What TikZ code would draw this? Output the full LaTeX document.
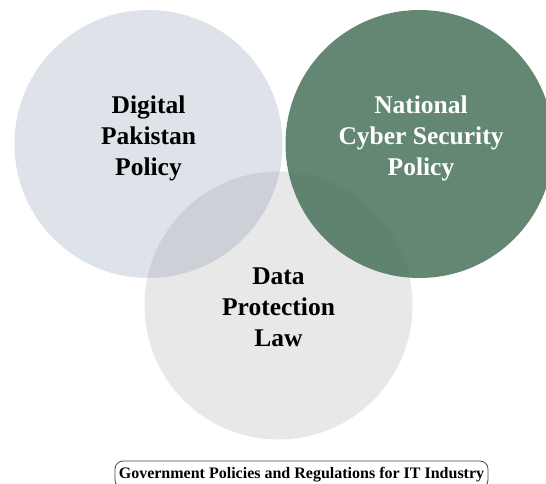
\documentclass[tikz,border=0pt]{standalone}
\usepackage{fontspec}
\setmainfont{Liberation Serif}
\usepackage{xcolor}

\definecolor{pakblue}{RGB}{222,226,233}
\definecolor{lawgrey}{RGB}{128,128,128}
\definecolor{cybergreen}{RGB}{72,114,89}
\definecolor{boxline}{RGB}{70,70,70}

\begin{document}
\begin{tikzpicture}[x=1pt,y=-1pt,
    policy/.style={circle,minimum size=268pt,inner sep=0pt},
    label/.style={align=center,font=\bfseries\fontsize{25.5}{31}\selectfont},
    caption/.style={draw=boxline,line width=0.8pt,rounded corners=8pt,
      minimum width=373pt,minimum height=27pt,inner sep=2pt,
      font=\bfseries\fontsize{16}{18}\selectfont}]

    \useasboundingbox (0,0) rectangle (546,483);

    % the three circles, drawn back to front
    \node[policy,fill=pakblue] (pak) at (148.5,144) {};
    \node[policy,fill=lawgrey,fill opacity=0.18] (law) at (278.5,305.5) {};
    \node[policy,fill=cybergreen,fill opacity=0.85] (cyber) at (419.5,144) {};

    \node[label] (pakname) at ([yshift=6pt]pak) {Digital\\Pakistan\\Policy};
    \node[label,text=white] (cybername) at ([xshift=1.5pt,yshift=6pt]cyber) {National\\Cyber Security\\Policy};
    \node[label] (lawname) at ([yshift=-1.5pt]law) {Data\\Protection\\Law};

    \node[caption] (title) at (301.5,474.5) {Government Policies and Regulations for IT Industry};
  \end{tikzpicture}
\end{document}
